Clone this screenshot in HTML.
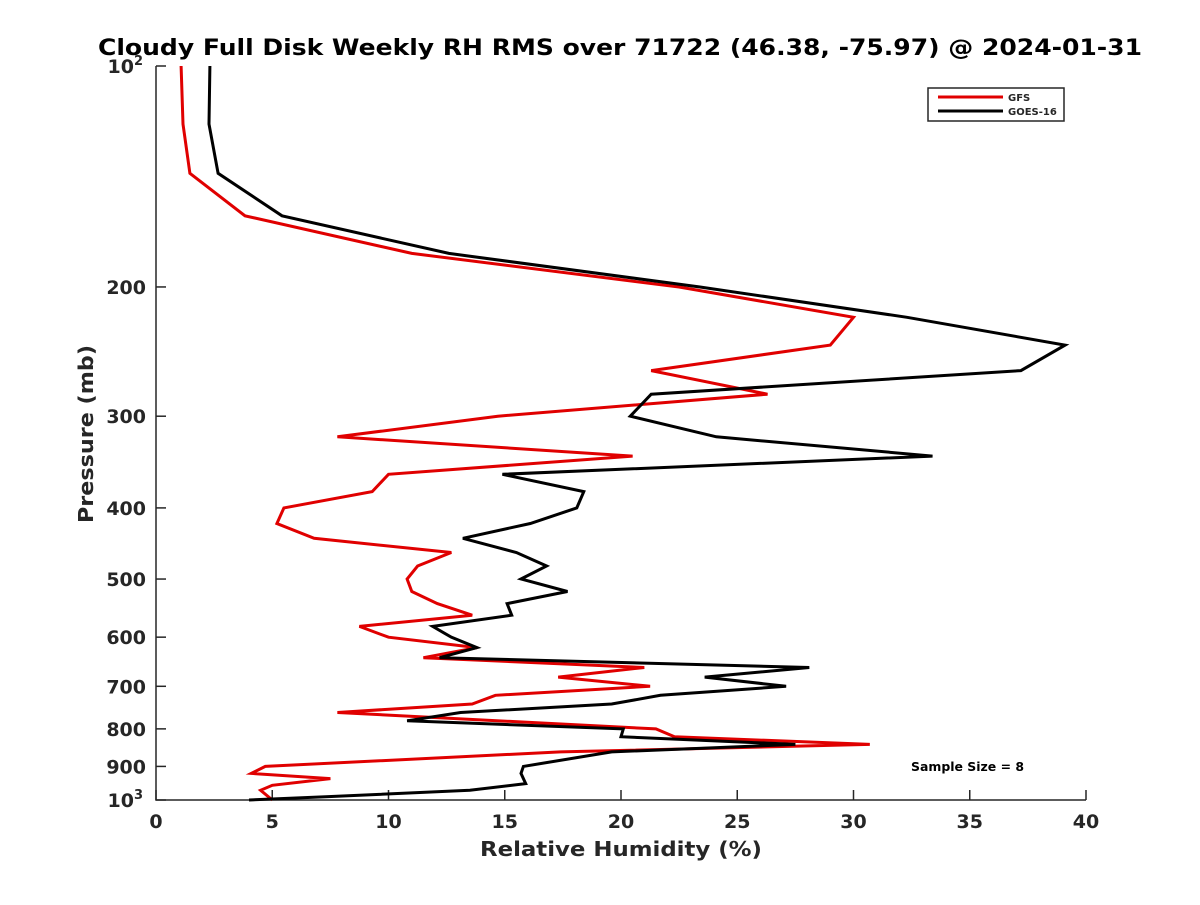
<!DOCTYPE html>
<html><head><meta charset="utf-8"><style>
body{margin:0;background:#fff}
svg text{font-family:"DejaVu Sans","Liberation Sans",sans-serif;font-weight:bold;fill:#262626}
</style></head><body>
<svg id="chart" width="1200" height="900" xmlns="http://www.w3.org/2000/svg">
<rect width="1200" height="900" fill="#fff"/>
<text x="98" y="55" textLength="1044" lengthAdjust="spacingAndGlyphs" font-size="22" style="fill:#000">Cloudy Full Disk Weekly RH RMS over 71722 (46.38, -75.97) @ 2024-01-31</text>
<g id="axes"></g>
<g id="series"></g>
<text x="480" y="856" textLength="282" lengthAdjust="spacingAndGlyphs" font-size="20">Relative Humidity (%)</text>
<text transform="translate(93,523) rotate(-90)" textLength="178" lengthAdjust="spacingAndGlyphs" font-size="20">Pressure (mb)</text>
<g>
<rect x="928" y="88" width="136" height="33" fill="#fff" stroke="#262626" stroke-width="1.5"/>
<line x1="938" y1="97" x2="1003" y2="97" stroke="#e00000" stroke-width="3"/>
<text x="1008" y="101" font-size="10">GFS</text>
<line x1="938" y1="111" x2="1003" y2="111" stroke="#000" stroke-width="3"/>
<text x="1008" y="115" font-size="10">GOES-16</text>
</g>
<text x="911" y="771" textLength="113" lengthAdjust="spacingAndGlyphs" font-size="12" style="fill:#000">Sample Size = 8</text>
</svg>
<script>
const xTicks=[0,5,10,15,20,25,30,35,40];
const yTicks=[100,200,300,400,500,600,700,800,900,1000];
const yTickLabels=["10","200","300","400","500","600","700","800","900","10"];
const gfsP=[100,120,140,160,180,200,220,240,260,280,300,320,340,360,380,400,420,440,460,480,500,520,540,560,580,600,620,640,660,680,700,720,740,760,800,820,840,860,900,920,935,955,970,1000];
const gfsRH=[1.08,1.16,1.46,3.83,11.0,22.5,30.0,29.0,21.3,26.3,14.7,7.8,20.5,10.0,9.3,5.5,5.2,6.8,12.7,11.25,10.8,11.0,12.1,13.6,8.75,10.0,13.8,11.5,21.0,17.3,21.25,14.6,13.6,7.8,21.5,22.3,30.7,17.4,4.7,4.1,7.5,5.0,4.5,5.0];
const goesP=[100,120,140,160,180,200,220,240,260,280,300,320,340,360,380,400,420,440,460,480,500,520,540,560,580,600,620,640,660,680,700,720,740,760,780,800,820,840,860,900,920,950,970,990,1000];
const goesRH=[2.32,2.28,2.67,5.42,12.6,23.4,32.3,39.1,37.2,21.3,20.4,24.1,33.4,14.9,18.4,18.1,16.1,13.2,15.5,16.8,15.7,17.7,15.1,15.3,11.9,12.7,13.8,12.2,28.1,23.6,27.1,21.7,19.6,13.1,10.8,20.1,20.0,27.5,19.6,15.8,15.7,15.9,13.5,7.3,4.0];
const NS="http://www.w3.org/2000/svg";
const X0=156,X1=1086,Y0=66,Y1=800;
function xs(v){return X0+(v-0)/(40-0)*(X1-X0);}
function ys(p){return Y0+(Math.log10(p)-2)*(Y1-Y0);}
const axes=document.getElementById('axes');
function mk(tag,attrs,parent){const e=document.createElementNS(NS,tag);for(const k in attrs)e.setAttribute(k,attrs[k]);parent.appendChild(e);return e;}
const ax=mk('path',{d:`M${X0},${Y0}V${Y1}H${X1}`,fill:'none',stroke:'#262626','stroke-width':1.5},axes);


xTicks.forEach(v=>{
  const x=xs(v);
  const t=mk('line',{x1:x,y1:Y1,x2:x,y2:Y1-10,stroke:'#262626','stroke-width':1.5},axes);
  
  
  const l=mk('text',{x:x,y:Y1+28,'text-anchor':'middle','font-size':19},axes);
  l.textContent=v;
  
  
});
yTicks.forEach((p,i)=>{
  const y=ys(p);
  const t=mk('line',{x1:X0,y1:y,x2:X0+10,y2:y,stroke:'#262626','stroke-width':1.5},axes);
  
  
  const l=mk('text',{x:X0-10,y:y+7,'text-anchor':'end','font-size':19},axes);
  l.textContent=yTickLabels[i];
  if(i===0||i===yTicks.length-1){
    l.setAttribute('x',X0-12-10);
    const s=mk('text',{x:X0-22,y:y-1,'font-size':13},axes);
    s.textContent=i===0?'2':'3';
    
    
  }
  
  
});
const series=document.getElementById('series');
function line(P,R,color,name){
  const d=P.map((p,i)=>(i?'L':'M')+xs(R[i]).toFixed(1)+','+ys(p).toFixed(1)).join('');
  const e=mk('path',{d:d,fill:'none',stroke:color,'stroke-width':3,'stroke-linejoin':'miter'},series);
  
  
}
line(gfsP,gfsRH,'#e00000','gfs-line');
line(goesP,goesRH,'#000000','goes16-line');
</script>
</body></html>
